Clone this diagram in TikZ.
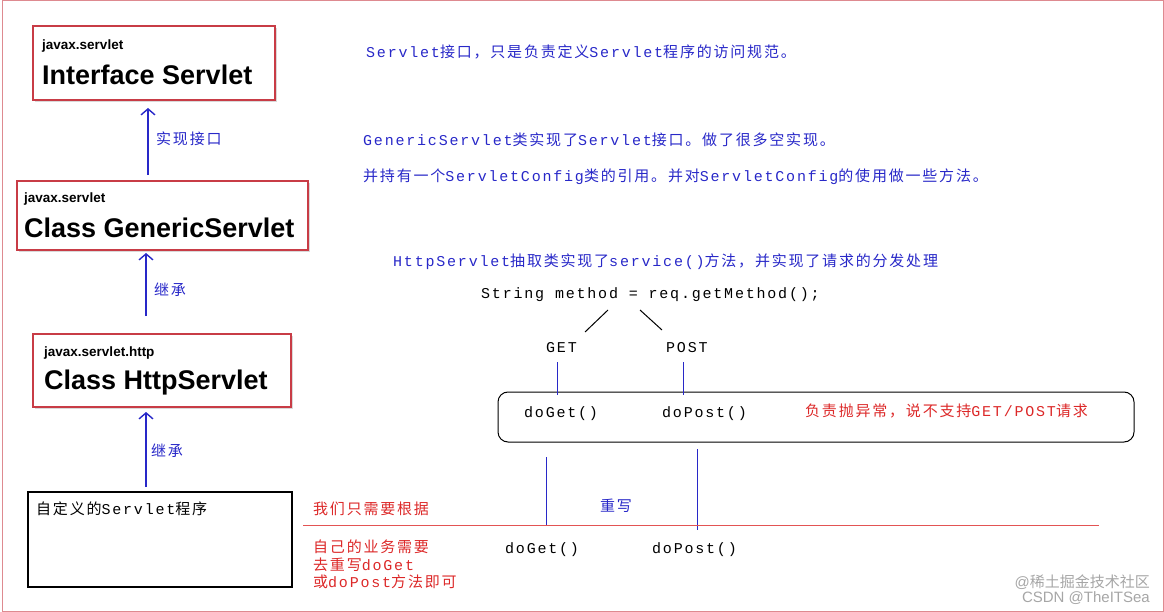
\documentclass[tikz,border=0pt]{standalone}
\usepackage{fontspec}
\setmainfont{Liberation Sans}
\setmonofont{Liberation Mono}[LetterSpace=12]
\newfontfamily\cjk{Noto Sans CJK SC}[LetterSpace=12]
\newcommand\cj[1]{{\cjk #1}}
\usetikzlibrary{shadows,arrows.meta}
\definecolor{bl}{RGB}{40,40,200}
\definecolor{rd}{RGB}{220,40,40}
\definecolor{bx}{RGB}{200,60,70}
\begin{document}
\begin{tikzpicture}[x=1pt,y=-1pt,
  cls/.style={draw=bx,line width=1.2pt,fill=white,drop shadow={shadow xshift=2pt,shadow yshift=-2pt,opacity=0.3}},
  up/.style={draw=bl,line width=1.4pt,-{Straight Barb[length=6pt,width=14pt]}},
  bt/.style={text=bl,font=\ttfamily\fontsize{15}{15}\selectfont,anchor=west,inner sep=0},
  rt/.style={text=rd,font=\ttfamily\fontsize{15}{15}\selectfont,anchor=west,inner sep=0},
  kt/.style={text=black,font=\ttfamily\fontsize{15}{15}\selectfont,anchor=west,inner sep=0},
  pk/.style={anchor=west,inner sep=0,font=\bfseries\fontsize{13.5}{13.5}\selectfont},
  ti/.style={anchor=west,inner sep=0,font=\bfseries\fontsize{27}{27}\selectfont},
  vl/.style={draw=bl,line width=1pt}]
\useasboundingbox (0,0) rectangle (1164,612);
\draw[draw=bx!60,line width=1pt] (2,1) rectangle (1163,611);
% class boxes
\draw[cls] (33,26) rectangle (275,100);
\node[pk] (p1) at (42,46) {javax.servlet};
\node[ti] (n1) at (42,75) {Interface Servlet};
\draw[cls] (17,181) rectangle (308,250);
\node[pk] (p2) at (24,199) {javax.servlet};
\node[ti] (n2) at (24,228) {Class GenericServlet};
\draw[cls] (33,334) rectangle (291,407);
\node[pk] (p3) at (44,353) {javax.servlet.http};
\node[ti] (n3) at (44,383) {Class HttpServlet};
\draw[line width=1.6pt] (28,492) rectangle (292,587);
\node[kt] (n4) at (36,509) {\cj{自定义的}Servlet\cj{程序}};
% arrows
\coordinate (a1s) at (148,175); \coordinate (a1e) at (148,108);
\coordinate (a2s) at (146,316); \coordinate (a2e) at (146,253);
\coordinate (a3s) at (146,487); \coordinate (a3e) at (146,412);
\draw[up] (a1s) -- (a1e);
\draw[up] (a2s) -- (a2e);
\draw[up] (a3s) -- (a3e);
\node[bt] (l1) at (156,139) {\cj{实现接口}};
\node[bt] (l2) at (154,290) {\cj{继承}};
\node[bt] (l3) at (151,451) {\cj{继承}};
% right texts
\node[bt] (t1) at (366,52) {Servlet\cj{接口，只是负责定义}Servlet\cj{程序的访问规范。}};
\node[bt] (t2) at (363,140) {GenericServlet\cj{类实现了}Servlet\cj{接口。做了很多空实现。}};
\node[bt] (t3) at (363,177) {\cj{并持有一个}ServletConfig\cj{类的引用。并对}ServletConfig\cj{的使用做一些方法。}};
\node[bt] (t4) at (393,262) {HttpServlet\cj{抽取类实现了}service()\cj{方法，并实现了请求的分发处理}};
\node[kt] (sm) at (481,295) {String method = req.getMethod();};
\coordinate (s1) at (608,310); \coordinate (s2) at (640,310);
\node[kt] (get) at (546,348) {GET};
\node[kt] (post) at (666,348) {POST};
\draw[line width=1pt] (s1) -- (585,332);
\draw[line width=1pt] (s2) -- (662,330);
\draw[rounded corners=10pt,line width=1pt] (498,392) rectangle (1134,442);
\draw[vl] (557,362) -- (557,395);
\draw[vl] (683,362) -- (683,395);
\node[kt] (dg1) at (524,414) {doGet()};
\node[kt] (dp1) at (662,414) {doPost()};
\node[rt] (ex) at (805,411) {\cj{负责抛异常，说不支持}GET/POST\cj{请求}};
\draw[vl] (546,457) -- (546,526);
\draw[vl] (697,449) -- (697,530);
\node[bt] (cw) at (600,506) {\cj{重写}};
\draw[draw=rd!80,line width=1pt] (303,525) -- (1099,525);
\node[rt] (r1) at (313,509) {\cj{我们只需要根据}};
\node[rt] (r2) at (313,547) {\cj{自己的业务需要}};
\node[rt] (r3) at (313,565) {\cj{去重写}doGet};
\node[rt] (r4) at (313,582) {\cj{或}doPost\cj{方法即可}};
\node[kt] (dg2) at (505,550) {doGet()};
\node[kt] (dp2) at (652,550) {doPost()};
\node[anchor=east,inner sep=0,text=gray!70,font=\fontsize{15}{15}\selectfont] (w1) at (1150,582) {@{\fontspec{Noto Sans CJK SC}稀土掘金技术社区}};
\node[anchor=east,inner sep=0,text=gray!70,font=\fontsize{15}{15}\selectfont] (w2) at (1150,598) {CSDN @TheITSea};
\end{tikzpicture}
\end{document}
